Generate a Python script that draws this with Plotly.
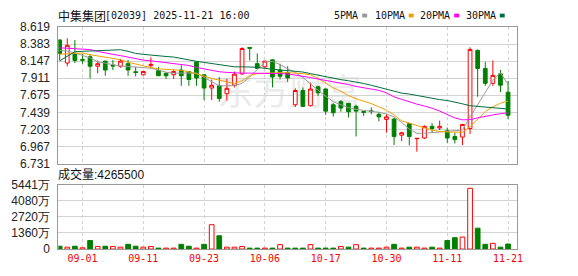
import plotly.graph_objects as go

# ---------------- data ----------------
dates = [
    "2025-08-27", "2025-08-28", "2025-08-29",
    "2025-09-01", "2025-09-02", "2025-09-03", "2025-09-04", "2025-09-05",
    "2025-09-08", "2025-09-09", "2025-09-10", "2025-09-11", "2025-09-12",
    "2025-09-15", "2025-09-16", "2025-09-17", "2025-09-18", "2025-09-19",
    "2025-09-22", "2025-09-23", "2025-09-24", "2025-09-25", "2025-09-26",
    "2025-09-29", "2025-09-30",
    "2025-10-02", "2025-10-03", "2025-10-06", "2025-10-08", "2025-10-09",
    "2025-10-10", "2025-10-13", "2025-10-14", "2025-10-15", "2025-10-16",
    "2025-10-17", "2025-10-20", "2025-10-21", "2025-10-22", "2025-10-23",
    "2025-10-24", "2025-10-27", "2025-10-28", "2025-10-30", "2025-10-31",
    "2025-11-03", "2025-11-04", "2025-11-05", "2025-11-06", "2025-11-07",
    "2025-11-10", "2025-11-11", "2025-11-12", "2025-11-13", "2025-11-14",
    "2025-11-17", "2025-11-18", "2025-11-19", "2025-11-20", "2025-11-21",
]

open_ = [8.439, 8.121, 8.252, 8.168, 8.207, 8.076, 8.147, 8.090, 8.076, 8.112,
         8.000, 7.958, 8.085, 8.016, 7.980, 7.958, 8.024, 8.003, 8.134, 7.958,
         7.775, 7.806, 7.696, 7.814, 7.971, 8.335, 8.112, 8.068, 8.164, 8.024,
         7.990, 7.544, 7.741, 7.531, 7.793, 7.762, 7.544, 7.587, 7.565, 7.522,
         7.450, 7.460, 7.413, 7.342, 7.347, 7.124, 7.282, 7.075, 7.085, 7.246,
         7.224, 7.185, 7.106, 7.098, 7.216, 8.295, 8.046, 7.840, 7.971, 7.718]
high = [8.445, 8.462, 8.439, 8.243, 8.243, 8.155, 8.150, 8.164, 8.177, 8.164,
        8.068, 8.010, 8.199, 8.068, 7.990, 8.024, 8.089, 8.010, 8.140, 7.960,
        7.893, 7.928, 7.902, 8.003, 8.338, 8.338, 8.252, 8.150, 8.170, 8.112,
        8.076, 7.771, 7.784, 7.849, 7.806, 7.770, 7.565, 7.609, 7.570, 7.544,
        7.456, 7.508, 7.447, 7.413, 7.368, 7.172, 7.290, 7.080, 7.259, 7.290,
        7.325, 7.229, 7.158, 7.280, 8.338, 8.308, 8.134, 8.155, 8.024, 7.872]
low = [8.155, 8.076, 8.121, 8.112, 7.906, 7.980, 7.945, 8.024, 8.055, 7.945,
       7.937, 7.950, 8.046, 7.940, 7.902, 7.902, 7.806, 7.806, 7.806, 7.609,
       7.609, 7.587, 7.600, 7.784, 7.960, 8.155, 8.040, 8.046, 7.784, 7.893,
       7.859, 7.512, 7.512, 7.520, 7.666, 7.404, 7.381, 7.447, 7.368, 7.106,
       7.390, 7.413, 7.316, 7.158, 6.988, 7.040, 6.984, 6.896, 7.072, 7.158,
       7.194, 7.019, 7.009, 6.988, 7.141, 7.653, 7.806, 7.806, 7.718, 7.347]
close = [8.252, 8.365, 8.155, 8.160, 8.076, 8.112, 8.024, 8.080, 8.147, 8.024,
         7.990, 8.003, 8.102, 7.945, 7.945, 8.003, 7.945, 7.893, 7.915, 7.775,
         7.814, 7.631, 7.771, 7.967, 8.321, 8.325, 8.046, 8.147, 7.928, 7.937,
         7.915, 7.741, 7.522, 7.762, 7.709, 7.456, 7.434, 7.499, 7.447, 7.456,
         7.440, 7.450, 7.377, 7.377, 7.106, 7.158, 7.106, 7.080, 7.246, 7.216,
         7.246, 7.085, 7.063, 7.272, 8.308, 8.046, 7.840, 7.950, 7.814, 7.400]

ma5 = [8.295, 8.285, 8.262, 8.230, 8.190, 8.138, 8.118, 8.099, 8.079, 8.072,
       8.067, 8.059, 8.050, 8.023, 7.994, 7.981, 7.981, 7.986, 7.983, 7.922,
       7.867, 7.806, 7.806, 7.808, 7.840, 7.928, 8.033, 8.135, 8.143, 8.099,
       8.040, 7.990, 7.922, 7.830, 7.745, 7.663, 7.587, 7.544, 7.505, 7.482,
       7.464, 7.452, 7.440, 7.415, 7.377, 7.299, 7.207, 7.151, 7.151, 7.160,
       7.172, 7.181, 7.183, 7.194, 7.377, 7.548, 7.718, 7.882, 7.987, 7.823]
ma10 = [8.243, 8.249, 8.253, 8.258, 8.236, 8.217, 8.203, 8.184, 8.167, 8.131,
        8.105, 8.079, 8.059, 8.040, 8.033, 8.026, 8.020, 8.000, 7.974, 7.941,
        7.908, 7.882, 7.863, 7.836, 7.876, 7.948, 7.974, 7.981, 7.981, 7.987,
        7.987, 7.981, 7.974, 7.958, 7.908, 7.843, 7.777, 7.731, 7.672, 7.627,
        7.594, 7.561, 7.515, 7.469, 7.404, 7.321, 7.292, 7.253, 7.224, 7.197,
        7.173, 7.168, 7.161, 7.164, 7.240, 7.345, 7.450, 7.515, 7.565, 7.595]
ma20 = [8.331, 8.327, 8.321, 8.315, 8.306, 8.281, 8.257, 8.240, 8.223, 8.202,
        8.180, 8.161, 8.151, 8.139, 8.125, 8.113, 8.101, 8.087, 8.060, 8.038,
        8.019, 8.000, 7.991, 7.981, 7.981, 7.981, 7.981, 7.981, 7.978, 7.975,
        7.970, 7.956, 7.940, 7.920, 7.899, 7.882, 7.865, 7.848, 7.823, 7.797,
        7.776, 7.760, 7.743, 7.708, 7.653, 7.619, 7.582, 7.553, 7.526, 7.497,
        7.456, 7.409, 7.362, 7.336, 7.338, 7.363, 7.388, 7.404, 7.421, 7.433]
ma30 = [8.151, 8.217, 8.276, 8.282, 8.287, 8.298, 8.304, 8.304, 8.304, 8.282,
        8.253, 8.240, 8.227, 8.217, 8.211, 8.203, 8.181, 8.161, 8.144, 8.129,
        8.113, 8.099, 8.083, 8.068, 8.068, 8.068, 8.062, 8.047, 8.033, 8.024,
        8.016, 8.008, 7.996, 7.974, 7.952, 7.932, 7.911, 7.891, 7.876, 7.859,
        7.838, 7.813, 7.788, 7.763, 7.738, 7.705, 7.692, 7.671, 7.648, 7.627,
        7.615, 7.603, 7.583, 7.557, 7.531, 7.522, 7.514, 7.509, 7.498, 7.485]

# volume in 万 shares; vol_up: True = red (up vs previous close)
volume = [240, 160, 240, 107, 720, 213, 240, 213, 160, 400,
          240, 160, 213, 80, 80, 80, 400, 240, 80, 400,
          2053, 1120, 160, 160, 213, 80, 80, 80, 80, 373,
          80, 80, 80, 373, 80, 80, 80, 213, 160, 373,
          80, 80, 80, 160, 400, 80, 160, 160, 80, 160,
          80, 720, 960, 1013, 5120, 1760, 400, 480, 160, 426.55]
vol_up = [0, 1, 0, 1, 0, 1, 0, 1, 1, 0,
          0, 1, 1, 0, 1, 1, 0, 0, 1, 0,
          1, 0, 1, 1, 1, 0, 0, 1, 0, 1,
          0, 0, 0, 1, 0, 0, 0, 1, 0, 1,
          0, 1, 1, 1, 0, 1, 0, 1, 1, 0,
          1, 0, 0, 1, 1, 0, 0, 1, 0, 0]

price_ticks = [6.731, 6.967, 7.203, 7.439, 7.675, 7.911, 8.147, 8.383, 8.619]
vol_ticks = [0, 1360, 2720, 4080, 5441]
vol_tick_text = ["0", "1360万", "2720万", "4080万", "5441万"]
date_tick_vals = ["2025-09-01", "2025-09-11", "2025-09-23", "2025-10-06",
                  "2025-10-17", "2025-10-30", "2025-11-11", "2025-11-21"]
date_tick_text = ["09-01", "09-11", "09-23", "10-06", "10-17", "10-30", "11-11", "11-21"]

title_name = "中集集团"
title_rest = "[02039] 2025-11-21 16:00"
vol_title = "成交量:4265500"
legend_items = [("5PMA", "#999999"), ("10PMA", "#f0a000"), ("20PMA", "#ff00ff"), ("30PMA", "#006f3c")]

# ---------------- styling ----------------
W, H = 578, 276
RED = "#ff0000"
GREEN = "#008000"
FRAME = "#999999"
GRID = "#d3d3d3"
LABEL_FONT = dict(family="Liberation Sans, Arial, sans-serif", size=12, color="#222222")
MONO = "DejaVu Sans Mono, Liberation Mono, monospace"

def px_x(x):
    return x / W

def px_y(y):
    return 1 - y / H

x_dom = [px_x(59), px_x(522)]
price_dom = [px_y(165), px_y(21)]
vol_dom = [px_y(255), px_y(187)]
x_range = [-0.17, 60.12]

fig = go.Figure()

fig.add_trace(go.Candlestick(
    x=dates, open=open_, high=high, low=low, close=close,
    increasing=dict(line=dict(color=RED, width=1), fillcolor="white"),
    decreasing=dict(line=dict(color=GREEN, width=1), fillcolor=GREEN),
    whiskerwidth=0, hoverinfo="skip", showlegend=False,
    xaxis="x", yaxis="y",
))

for vals, (name, col) in zip([ma5, ma10, ma20, ma30], legend_items):
    fig.add_trace(go.Scatter(
        x=dates, y=vals, mode="lines", line=dict(color=col, width=1),
        hoverinfo="skip", showlegend=False, xaxis="x", yaxis="y",
    ))

fig.add_trace(go.Bar(
    x=dates, y=volume,
    marker=dict(
        color=["white" if u else GREEN for u in vol_up],
        line=dict(color=[RED if u else GREEN for u in vol_up], width=1),
    ),
    width=0.62, hoverinfo="skip", showlegend=False, xaxis="x2", yaxis="y2",
))

common_x = dict(
    type="category", categoryorder="array", categoryarray=dates,
    range=x_range, domain=x_dom, tickvals=date_tick_vals,
    showgrid=True, gridcolor=GRID, griddash="3px,3px", gridwidth=1,
    showline=True, mirror=True, linecolor=FRAME, linewidth=1,
    ticks="", fixedrange=True,
)

fig.update_layout(
    width=W, height=H,
    margin=dict(l=0, r=0, t=0, b=0),
    paper_bgcolor="white", plot_bgcolor="white",
    showlegend=False,
    xaxis=dict(**common_x, anchor="y", showticklabels=False,
               rangeslider=dict(visible=False)),
    yaxis=dict(domain=price_dom, range=[6.731, 8.619], tickvals=price_ticks,
               ticktext=[f"{v:.3f}" for v in price_ticks],
               showgrid=True, gridcolor=GRID, zeroline=False,
               showline=True, mirror=True, linecolor=FRAME,
               ticks="", ticklabelstandoff=5, tickfont=LABEL_FONT, anchor="x"),
    xaxis2=dict(**common_x, anchor="y2", ticktext=date_tick_text,
                tickfont=dict(family=MONO, size=10, color=RED)),
    yaxis2=dict(domain=vol_dom, range=[0, 5441], tickvals=vol_ticks,
                ticktext=vol_tick_text,
                showgrid=True, gridcolor=GRID, zeroline=False,
                showline=True, mirror=True, linecolor=FRAME,
                ticks="", ticklabelstandoff=5, tickfont=LABEL_FONT, anchor="x2"),
    bargap=0.3,
)

# watermark behind the candles
fig.add_shape(
    type="rect", xref="paper", yref="paper",
    x0=px_x(195), x1=px_x(390), y0=px_y(115), y1=px_y(70),
    line=dict(width=0), fillcolor="rgba(0,0,0,0)", layer="below",
    label=dict(text="东方财富", font=dict(family="Noto Sans CJK SC", size=36, color="#ebebeb")),
)

annotations = [
    dict(text=title_name, x=px_x(57), y=px_y(9), xanchor="left", yanchor="middle",
         font=dict(family="Noto Sans CJK SC", size=12, color="#111111")),
    dict(text=title_rest, x=px_x(104), y=px_y(9), xanchor="left", yanchor="middle",
         font=dict(family=MONO, size=10, color="#111111")),
    dict(text=vol_title, x=px_x(57), y=px_y(176), xanchor="left", yanchor="middle",
         font=dict(family="Liberation Sans, Noto Sans CJK SC", size=12, color="#111111")),
]

legend_right = [363, 410, 456, 502]
for (name, col), xr in zip(legend_items, legend_right):
    annotations.append(dict(text=name, x=px_x(xr + 1), y=px_y(9), xanchor="right",
                            yanchor="middle", font=dict(family=MONO, size=10, color="#111111")))
    fig.add_shape(type="rect", xref="paper", yref="paper",
                  x0=px_x(xr + 3), x1=px_x(xr + 8), y0=px_y(11), y1=px_y(7),
                  line=dict(width=0), fillcolor=col)

for a in annotations:
    a.update(xref="paper", yref="paper", showarrow=False)
fig.update_layout(annotations=annotations)

fig.write_html("out.html")
